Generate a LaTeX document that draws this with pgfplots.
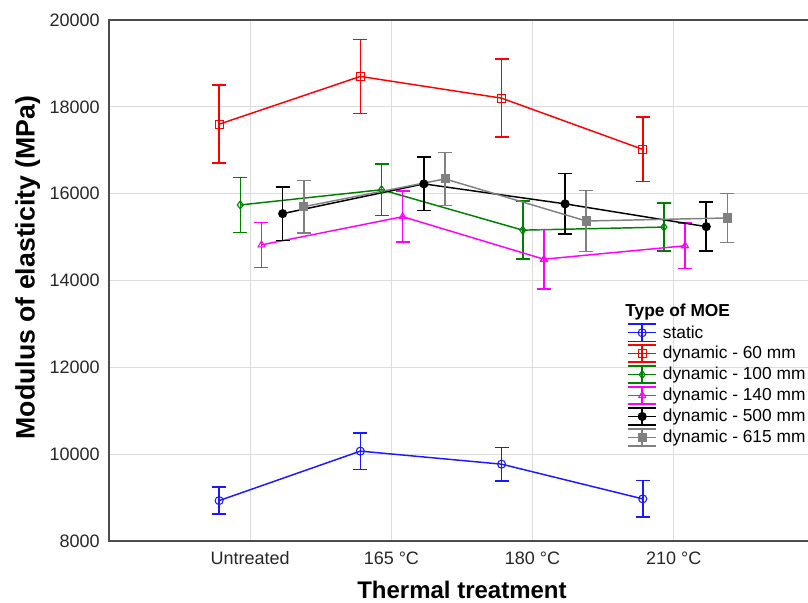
\documentclass[border=0pt]{standalone}
\usepackage{pgfplots}
\pgfplotsset{compat=1.18}
\usepackage{pgfplotstable}
\usepackage{fontspec}
\setmainfont{Liberation Sans}

\definecolor{moeblue}{RGB}{25,25,255}
\definecolor{moegreen}{RGB}{0,128,0}
\definecolor{moemag}{RGB}{255,0,255}
\definecolor{moegray}{RGB}{128,128,128}
\definecolor{gridgray}{RGB}{220,220,220}

% x = category (1 Untreated, 2 165C, 3 180C, 4 210C) + offset, y = mean, e = error
\pgfplotstableread{
x y e
0.78 8930 310
1.78 10070 420
2.78 9770 385
3.78 8970 420
}\staticdata
\pgfplotstableread{
x y e
0.78 17600 900
1.78 18700 850
2.78 18200 900
3.78 17020 740
}\sixtydata
\pgfplotstableread{
x y e
0.93 15740 630
1.93 16090 590
2.93 15160 670
3.93 15230 555
}\hundreddata
\pgfplotstableread{
x y e
1.08 14820 520
2.08 15470 585
3.08 14490 685
4.08 14800 520
}\onefortydata
\pgfplotstableread{
x y e
1.23 15540 615
2.23 16225 615
3.23 15765 700
4.23 15240 565
}\fivehundreddata
\pgfplotstableread{
x y e
1.38 15700 600
2.38 16340 610
3.38 15370 700
4.38 15440 565
}\sixfifteendata

\pgfplotsset{
  moe/.style={
    line width=1.1pt,
    mark size=3pt,
    mark options={solid, line width=0.8pt},
    error bars/.cd,
      y dir=both, y explicit,
      error bar style={line width=1.2pt},
      error mark options={rotate=90, mark size=5.25pt, line width=1.2pt},
  },
}

\begin{document}
\begin{tikzpicture}
\begin{axis}[
  at={(81.75pt,46.5pt)}, anchor=south west,
  scale only axis,
  width=529.5pt, height=390.75pt,
  xmin=0, xmax=5,
  ymin=8000, ymax=20000,
  xtick={1,2,3,4},
  xticklabels={Untreated, 165 °C, 180 °C, 210 °C},
  ytick={8000,10000,12000,14000,16000,18000,20000},
  scaled y ticks=false,
  /pgf/number format/assume math mode=true,
  /pgf/number format/set thousands separator={},
  major tick length=0pt,
  grid=major,
  major grid style={draw=gridgray, line width=0.7pt},
  axis line style={draw=black!70, line width=0.8pt},
  tick label style={font=\fontsize{13.5}{15}\selectfont, text=black!85},
  xticklabel style={inner sep=0pt, yshift=-7.8pt},
  yticklabel style={inner sep=0pt, xshift=-6.75pt},
  xlabel={\textbf{Thermal treatment}},
  xlabel style={at={([yshift=-37pt]axis description cs:0.5,0)}, anchor=center,
    inner sep=0pt, font=\fontsize{18}{20}\selectfont},
  ylabel={\textbf{Modulus of elasticity (MPa)}},
  ylabel style={at={([xshift=-61pt,yshift=9.7pt]axis description cs:0,0.5)}, anchor=center,
    inner sep=0pt, font=\fontsize{20}{22}\selectfont},
  legend image code/.code={
    \draw[#1, mark=none] (0pt,6.4pt) -- (21pt,6.4pt)
      (0pt,-6.4pt) -- (21pt,-6.4pt)
      (10.5pt,-6.4pt) -- (10.5pt,6.4pt);
    \draw[mark repeat=2, mark phase=2, #1] plot coordinates {(0pt,0pt) (10.5pt,0pt) (21pt,0pt)};
  },
  legend cell align=left,
  legend style={
    at={(axis description cs:0.734,0.418)}, anchor=north west,
    draw=none, fill=none, inner sep=0pt,
    font=\fontsize{13}{15}\selectfont,
    nodes={inner sep=0pt},
    row sep=1.8pt,
    /tikz/every odd column/.append style={column sep=4.5pt},
  },
]
\addplot[color=moeblue, mark=o, moe] table[x=x, y=y, y error=e] {\staticdata};
\addlegendentry{static}
\addplot[color=red, mark=square, moe] table[x=x, y=y, y error=e] {\sixtydata};
\addlegendentry{dynamic - 60 mm}
\addplot[color=moegreen, mark=diamond, mark size=2.3pt, moe] table[x=x, y=y, y error=e] {\hundreddata};
\addlegendentry{dynamic - 100 mm}
\addplot[color=moemag, mark=triangle, mark size=2.8pt, moe] table[x=x, y=y, y error=e] {\onefortydata};
\addlegendentry{dynamic - 140 mm}
\addplot[color=black, mark=*, moe] table[x=x, y=y, y error=e] {\fivehundreddata};
\addlegendentry{dynamic - 500 mm}
\addplot[color=moegray, mark=square*, moe] table[x=x, y=y, y error=e] {\sixfifteendata};
\addlegendentry{dynamic - 615 mm}
\node[anchor=base west, font=\fontsize{13}{15}\selectfont\bfseries, inner sep=0pt]
  at (axis description cs:0.731,0.430) {Type of MOE};
\end{axis}
\pgfresetboundingbox
\path (0pt,0pt) rectangle (606pt,452.25pt);
\end{tikzpicture}
\end{document}
